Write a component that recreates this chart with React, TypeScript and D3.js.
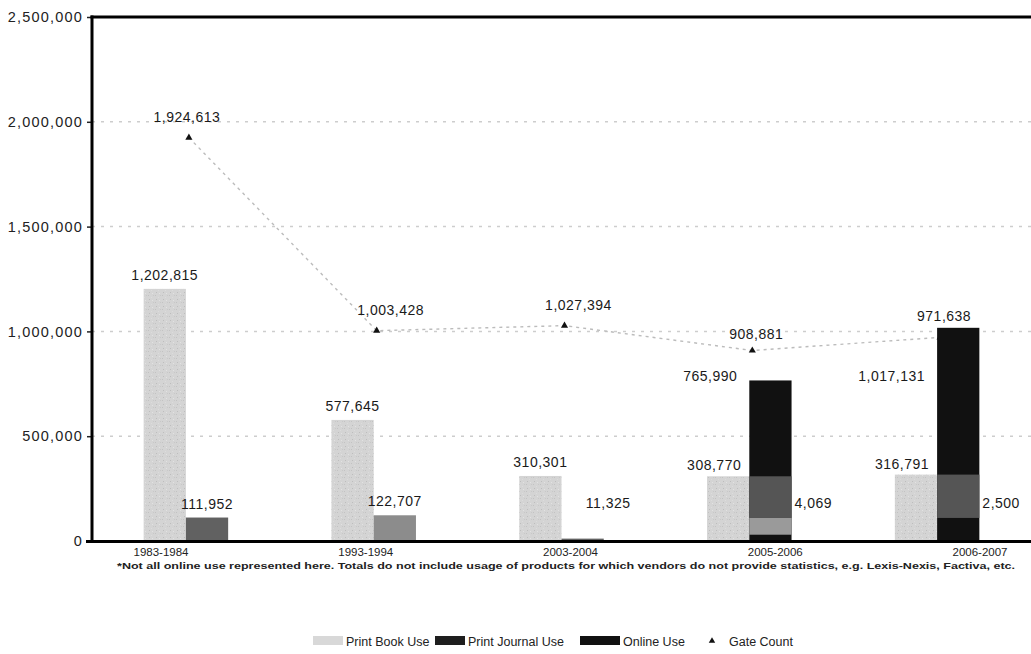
import { useEffect, useRef } from 'react';
import * as d3 from 'd3';

const years = ['1983-1984', '1993-1994', '2003-2004', '2005-2006', '2006-2007'];
const printBookUse = [1202815, 577645, 310301, 308770, 316791];
const printJournalUse = [111952, 122707, 11325, 4069, 2500];
const onlineUse: (number | null)[] = [null, null, null, 765990, 1017131];
const gateCount = [1924613, 1003428, 1027394, 908881, 971638];
const yTicks = [0, 500000, 1000000, 1500000, 2000000, 2500000];

// darker print-through seen inside the online bars of the scan (value range)
const onlineShadeLow: (number | null)[] = [null, null, null, 110000, 110000];
const onlineShadeLow2: (number | null)[] = [null, null, null, 30000, null];

const footnote =
  '*Not all online use represented here. Totals do not include usage of products for which vendors do not provide statistics, e.g. Lexis-Nexis, Factiva, etc.';

const W = 1031;
const H = 654;
const FONT = '"Liberation Sans", Arial, sans-serif';

export default function App() {
  const svgRef = useRef<SVGSVGElement>(null);

  useEffect(() => {
    if (!svgRef.current) return;
    const svg = d3.select(svgRef.current);
    svg.selectAll('*').remove();

    const left = 92;
    const right = 1031;
    const top = 17;
    const bottom = 541;

    const x = d3.scaleBand<string>()
      .domain(years)
      .range([left, right])
      .paddingInner(0.55)
      .paddingOuter(0.275);
    const xSub = d3.scaleBand<string>()
      .domain(['book', 'second'])
      .range([0, x.bandwidth()]);
    const xLabel = d3.scalePoint<string>()
      .domain(years)
      .range([161, 980]);
    const y = d3.scaleLinear().domain([0, 2500000]).range([bottom, top]);
    const fmt = d3.format(',');
    const bw = xSub.bandwidth();

    const defs = svg.append('defs');
    const pat = defs.append('pattern')
      .attr('id', 'stipple')
      .attr('width', 7)
      .attr('height', 7)
      .attr('patternUnits', 'userSpaceOnUse');
    pat.append('rect').attr('width', 7).attr('height', 7).attr('fill', '#d4d4d4');
    [[1, 1, '#c2c2c2'], [4, 3, '#dcdcdc'], [2, 5, '#bdbdbd'], [5, 6, '#e2e2e2'], [6, 1, '#c8c8c8']]
      .forEach(([px, py, c]) => {
        pat.append('rect').attr('x', px).attr('y', py).attr('width', 1).attr('height', 1).attr('fill', c as string);
      });

    // Grid lines
    svg.append('g')
      .selectAll('line')
      .data(yTicks.filter(t => t > 0 && t < 2500000))
      .enter()
      .append('line')
      .attr('x1', left)
      .attr('x2', right)
      .attr('y1', d => y(d))
      .attr('y2', d => y(d))
      .attr('stroke', '#cdcdcd')
      .attr('stroke-width', 1.5)
      .attr('stroke-dasharray', '3,6');

    // Gate count line + markers
    const gx = (i: number) => (x(years[i]) || 0) + x.bandwidth() / 2 + 3;
    const line = d3.line<number>()
      .x((_, i) => gx(i))
      .y(d => y(d));
    svg.append('path')
      .datum(gateCount)
      .attr('d', line)
      .attr('fill', 'none')
      .attr('stroke', '#bcbcbc')
      .attr('stroke-width', 1.4)
      .attr('stroke-dasharray', '3,4');
    svg.append('g')
      .selectAll('path')
      .data(gateCount)
      .enter()
      .append('path')
      .attr('d', d3.symbol(d3.symbolTriangle, 22))
      .attr('transform', (d, i) => `translate(${gx(i)},${y(d)})`)
      .attr('fill', '#111');

    // Print book bars
    svg.append('g')
      .selectAll('rect')
      .data(printBookUse)
      .enter()
      .append('rect')
      .attr('x', (_, i) => (x(years[i]) || 0) + (xSub('book') || 0))
      .attr('y', d => y(d))
      .attr('width', bw)
      .attr('height', d => bottom - y(d))
      .attr('fill', 'url(#stipple)');

    // Print journal bars
    svg.append('g')
      .selectAll('rect')
      .data(printJournalUse)
      .enter()
      .append('rect')
      .attr('x', (_, i) => (x(years[i]) || 0) + (xSub('second') || 0))
      .attr('y', d => y(d))
      .attr('width', bw)
      .attr('height', d => bottom - y(d))
      .attr('fill', (_, i) => (i === 1 ? '#8c8c8c' : '#616161'));

    // Online bars (stacked above journal)
    const onlineData = onlineUse
      .map((v, i) => ({ v, i }))
      .filter(d => d.v !== null) as { v: number; i: number }[];
    svg.append('g')
      .selectAll('rect')
      .data(onlineData)
      .enter()
      .append('rect')
      .attr('x', d => (x(years[d.i]) || 0) + (xSub('second') || 0))
      .attr('y', d => y(d.v))
      .attr('width', bw)
      .attr('height', d => y(printJournalUse[d.i]) - y(d.v))
      .attr('fill', '#111');

    const shade = onlineData.filter(d => onlineShadeLow[d.i] !== null);
    svg.append('g')
      .selectAll('rect')
      .data(shade)
      .enter()
      .append('rect')
      .attr('x', d => (x(years[d.i]) || 0) + (xSub('second') || 0))
      .attr('y', d => y(printBookUse[d.i]))
      .attr('width', bw)
      .attr('height', d => y(onlineShadeLow[d.i] as number) - y(printBookUse[d.i]))
      .attr('fill', '#555');
    const shade2 = onlineData.filter(d => onlineShadeLow2[d.i] !== null);
    svg.append('g')
      .selectAll('rect')
      .data(shade2)
      .enter()
      .append('rect')
      .attr('x', d => (x(years[d.i]) || 0) + (xSub('second') || 0))
      .attr('y', d => y(onlineShadeLow[d.i] as number))
      .attr('width', bw)
      .attr('height', d => y(onlineShadeLow2[d.i] as number) - y(onlineShadeLow[d.i] as number))
      .attr('fill', '#9a9a9a');

    const label = (g: d3.Selection<SVGGElement, unknown, null, undefined>) =>
      g.style('font-family', FONT)
        .style('font-size', '14px')
        .style('letter-spacing', '0.5px')
        .style('fill', '#1a1a1a');

    // Labels: print book
    svg.append('g').call(label)
      .selectAll('text')
      .data(printBookUse)
      .enter()
      .append('text')
      .attr('x', (_, i) => (x(years[i]) || 0) + (xSub('book') || 0) + bw / 2 - (i >= 3 ? 14 : 0))
      .attr('y', (d, i) => y(d) - (i >= 3 ? 6 : 9))
      .attr('text-anchor', 'middle')
      .text(d => fmt(d));

    // Labels: print journal
    svg.append('g').call(label)
      .selectAll('text')
      .data(printJournalUse)
      .enter()
      .append('text')
      .attr('x', (d, i) => {
        const bx = (x(years[i]) || 0) + (xSub('second') || 0);
        if (d > 50000) return bx + bw / 2;
        return onlineUse[i] === null ? bx + bw - 18 : bx + bw + 3;
      })
      .attr('y', d => (d > 50000 ? y(d) - 9 : bottom - 33))
      .attr('text-anchor', d => (d > 50000 ? 'middle' : 'start'))
      .text(d => fmt(d));

    // Labels: online
    svg.append('g').call(label)
      .selectAll('text')
      .data(onlineData)
      .enter()
      .append('text')
      .attr('x', d => (x(years[d.i]) || 0) + (xSub('second') || 0) - 12)
      .attr('y', 381)
      .attr('text-anchor', 'end')
      .text(d => fmt(d.v));

    // Labels: gate count
    svg.append('g').call(label)
      .selectAll('text')
      .data(gateCount)
      .enter()
      .append('text')
      .attr('x', (_, i) => gx(i) + (i === 1 || i === 2 ? 14 : i === 0 ? -2 : 4))
      .attr('y', (d, i) => y(d) - (i === 3 ? 11 : 16))
      .attr('text-anchor', 'middle')
      .text(d => fmt(d));

    // Axes
    const yAxis = svg.append('g')
      .attr('transform', `translate(${left},0)`)
      .call(d3.axisLeft(y).tickValues(yTicks).tickSize(5).tickPadding(4).tickFormat(d => fmt(d as number)));
    yAxis.select('.domain').remove();
    yAxis.selectAll('line').attr('stroke', '#222').attr('stroke-width', 1.5);
    yAxis.selectAll('text')
      .style('font-family', FONT)
      .style('font-size', '14.5px')
      .style('letter-spacing', '1.2px')
      .style('fill', '#222');

    svg.append('line')
      .attr('x1', left).attr('x2', left)
      .attr('y1', top - 1.5).attr('y2', bottom + 1.5)
      .attr('stroke', '#000').attr('stroke-width', 3);
    svg.append('line')
      .attr('x1', left - 1.5).attr('x2', right)
      .attr('y1', top).attr('y2', top)
      .attr('stroke', '#000').attr('stroke-width', 3);
    svg.append('line')
      .attr('x1', left - 6).attr('x2', right)
      .attr('y1', bottom + 0.5).attr('y2', bottom + 0.5)
      .attr('stroke', '#000').attr('stroke-width', 3);

    svg.append('g')
      .selectAll('text')
      .data(years)
      .enter()
      .append('text')
      .attr('x', d => xLabel(d) || 0)
      .attr('y', 556)
      .attr('text-anchor', 'middle')
      .style('font-family', FONT)
      .style('font-size', '11.5px')
      .style('fill', '#222')
      .text(d => d);

    svg.append('text')
      .attr('x', 117)
      .attr('y', 569)
      .attr('textLength', 898)
      .attr('lengthAdjust', 'spacingAndGlyphs')
      .style('font-family', FONT)
      .style('font-size', '9px')
      .style('font-weight', 'bold')
      .style('fill', '#222')
      .text(footnote);

    // Legend
    const legend = svg.append('g').attr('transform', 'translate(0,641)');
    const items = [
      { name: 'Print Book Use', x: 313, w: 30, fill: '#d8d8d8' },
      { name: 'Print Journal Use', x: 435, w: 30, fill: '#1e1e1e' },
      { name: 'Online Use', x: 580, w: 40, fill: '#111' },
    ];
    items.forEach(it => {
      legend.append('rect')
        .attr('x', it.x).attr('y', -5).attr('width', it.w).attr('height', 9)
        .attr('fill', it.fill);
      legend.append('text')
        .attr('x', it.x + it.w + 3).attr('y', 4.5)
        .style('font-family', FONT).style('font-size', '12.5px').style('fill', '#222')
        .text(it.name);
    });
    legend.append('path')
      .attr('d', d3.symbol(d3.symbolTriangle, 18))
      .attr('transform', 'translate(712,0)')
      .attr('fill', '#111');
    legend.append('text')
      .attr('x', 729).attr('y', 4.5)
      .style('font-family', FONT).style('font-size', '12.5px').style('fill', '#222')
      .text('Gate Count');
  }, []);

  return (
    <svg
      ref={svgRef}
      width={W}
      height={H}
      style={{ position: 'absolute', left: 0, top: 0, background: '#fff' }}
    />
  );
}
